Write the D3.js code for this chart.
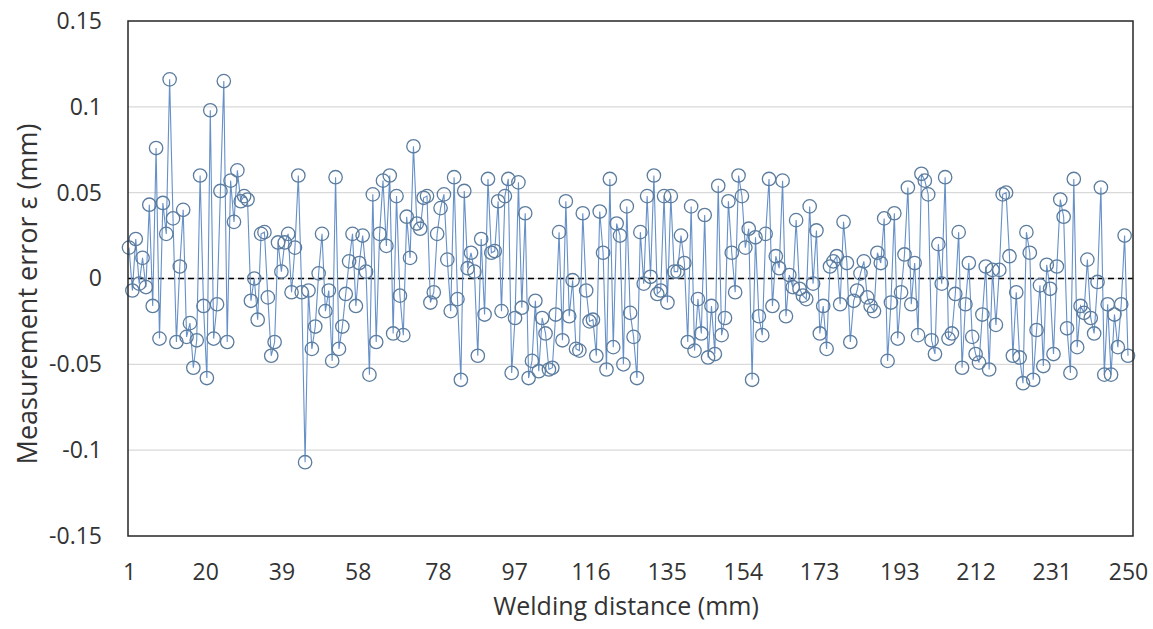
<!doctype html>
<html>
<head>
    <meta charset="UTF-8">
    <title>Measurement error</title>
    <script src="https://d3js.org/d3.v7.min.js"></script>
    <style>
        body { margin: 0; background: #fff; }
        text { font-family: "Open Sans", "DejaVu Sans", sans-serif; fill: #333; }
    </style>
</head>
<body>
<script>
    var errA = [0.018,-0.007,0.023,-0.003,0.012,-0.005,0.043,-0.016,0.076,-0.035,
                0.044,0.026,0.116,0.035,-0.037,0.007,0.040,-0.034,-0.026,-0.052,
                -0.036,0.060,-0.016,-0.058,0.098,-0.035,-0.015,0.051,0.115,-0.037,
                0.057,0.033,0.063,0.045,0.048,0.046,-0.013,0.000,-0.024,0.026,
                0.027,-0.011,-0.045,-0.037,0.021,0.004,0.021,0.026,-0.008,0.018,
                0.060,-0.008,-0.107];
    var errB = [-0.007,-0.041,-0.028,0.003,0.026,-0.019,-0.007,-0.048,0.059,-0.041,
                -0.028,-0.009,0.010,0.026,-0.016,0.009,0.025,0.004,-0.056,0.049,
                -0.037,0.026,0.057,0.019,0.060,-0.032,0.048,-0.010,-0.033,0.036,
                0.012,0.077,0.032,0.029,0.047,0.048,-0.014,-0.008,0.026,0.041,
                0.049,0.011,-0.019,0.059,-0.012,-0.059,0.051,0.006,0.015,0.004,
                -0.045,0.023,-0.021,0.058,0.015,0.016,0.045,-0.019,0.048];
    var errC = [0.058,-0.055,-0.023,0.056,-0.017,0.038,-0.058,-0.048,-0.013,-0.054,
                -0.023,-0.032,-0.053,-0.052,-0.021,0.027,-0.036,0.045,-0.022,-0.001,
                -0.041,-0.042,0.038,-0.007,-0.025,-0.024,-0.045,0.039,0.015,-0.053,
                0.058,-0.040,0.032,0.025,-0.050,0.042,-0.020,-0.034,-0.058,0.027,
                -0.003,0.048,0.001,0.060,-0.009,-0.007,0.048,-0.014,0.048,0.004,
                0.004,0.025,0.009,-0.037,0.042,-0.042];
    var errD = [-0.012,-0.032,0.037,-0.046,-0.016,-0.044,0.054,-0.033,-0.023,0.045,
                0.015,-0.008,0.060,0.048,0.018,0.029,-0.059,0.024,-0.022,-0.033,
                0.026,0.058,-0.016,0.013,0.006,0.057,-0.022,0.002,-0.005,0.034,
                -0.006,-0.010,-0.012,0.042,-0.003,0.028,-0.032,-0.016,-0.041,0.007,
                0.010,0.013,-0.015,0.033,0.009,-0.037,-0.013,-0.007,0.003,0.010,
                -0.011,-0.016,-0.019,0.015];
    var errE = [0.009,0.035,-0.048,-0.014,0.038,-0.035,-0.008,0.014,0.053,-0.015,
                0.009,-0.033,0.061,0.057,0.049,-0.036,-0.044,0.020,-0.003,0.059,
                -0.035,-0.032,-0.009,0.027,-0.052,-0.015,0.009,-0.034,-0.044,-0.049,
                -0.021,0.007,-0.053,0.005,-0.027,0.005,0.049,0.050,0.013,-0.045,
                -0.008,-0.046,-0.061,0.027,0.015,-0.059,-0.030,-0.004,-0.051,0.008,
                -0.006,-0.044,0.007,0.046,0.036,-0.029,-0.055,0.058];
    var errF = [-0.040,-0.016,-0.020,0.011,-0.023,-0.032,-0.002,0.053,-0.056,-0.015,
                -0.056,-0.021,-0.040,-0.015,0.025,-0.045];

    var xTickLabels = [1,20,39,58,78,97,116,135,154,173,193,212,231,250];
    var yTickValues = [-0.15,-0.1,-0.05,0,0.05,0.1,0.15];
    var xTitle = "Welding distance (mm)";
    var yTitle = "Measurement error \u03b5 (mm)";

    var W = 1153, H = 629;
    var plotL = 128, plotR = 1133, plotT = 21, plotB = 536;

    var errors = errA.concat(errB, errC, errD, errE, errF);
    // samples are evenly spaced along the 1..250 mm weld
    var step = (250 - 1) / (errors.length - 1);
    var pts = errors.map(function(v, i){ return {d: 1 + i * step, e: v}; });

    var svg = d3.select("body").append("svg")
        .attr("width", W).attr("height", H);

    var x = d3.scaleLinear().domain([1, 250]).range([plotL + 1, 1128]);
    var y = d3.scaleLinear().domain([-0.15, 0.15]).range([plotB, plotT]);

    // gridlines
    svg.append("g").selectAll("line")
        .data(yTickValues.filter(function(d){ return Math.abs(d) < 0.15; }))
        .enter().append("line")
        .attr("x1", plotL).attr("x2", plotR)
        .attr("y1", function(d){ return y(d); })
        .attr("y2", function(d){ return y(d); })
        .attr("stroke", "#d9d9d9").attr("stroke-width", 1.3);

    // zero reference
    svg.append("line")
        .attr("x1", plotL).attr("x2", plotR)
        .attr("y1", y(0)).attr("y2", y(0))
        .attr("stroke", "#000").attr("stroke-width", 1.6)
        .attr("stroke-dasharray", "6,4");

    // series line
    var line = d3.line()
        .x(function(p){ return x(p.d); })
        .y(function(p){ return y(p.e); });
    svg.append("path")
        .datum(pts)
        .attr("d", line)
        .attr("fill", "none")
        .attr("stroke", "#6690c8")
        .attr("stroke-width", 1.1);

    svg.append("g").selectAll("circle")
        .data(pts)
        .enter().append("circle")
        .attr("cx", function(p){ return x(p.d); })
        .attr("cy", function(p){ return y(p.e); })
        .attr("r", 6.7)
        .attr("fill", "none")
        .attr("stroke", "#5b7c9e")
        .attr("stroke-width", 1.3);

    // plot frame
    svg.append("rect")
        .attr("x", plotL).attr("y", plotT)
        .attr("width", plotR - plotL).attr("height", plotB - plotT)
        .attr("fill", "none").attr("stroke", "#262626").attr("stroke-width", 1.5);

    // axes
    var xAxis = d3.axisBottom(x).tickValues(xTickLabels).tickSize(0).tickPadding(28)
        .tickFormat(function(d){ return d; });
    var gx = svg.append("g").attr("transform", "translate(0," + plotB + ")").call(xAxis);
    gx.select(".domain").remove();
    gx.selectAll("text").attr("font-size", 23).style("font-family", null).attr("fill", "#333");

    var yAxis = d3.axisLeft(y).tickValues(yTickValues).tickSize(0).tickPadding(26)
        .tickFormat(function(d){ return d === 0 ? "0" : String(+d.toFixed(2)); });
    var gy = svg.append("g").attr("transform", "translate(" + plotL + ",0)").call(yAxis);
    gy.select(".domain").remove();
    gy.selectAll("text").attr("font-size", 23).style("font-family", null).attr("fill", "#333");

    svg.append("text")
        .attr("x", 626).attr("y", 615)
        .attr("text-anchor", "middle")
        .attr("font-size", 25)
        .text(xTitle);

    svg.append("text")
        .attr("transform", "translate(37,294) rotate(-90)")
        .attr("text-anchor", "middle")
        .attr("font-size", 27)
        .text(yTitle);
</script>
</body>
</html>
